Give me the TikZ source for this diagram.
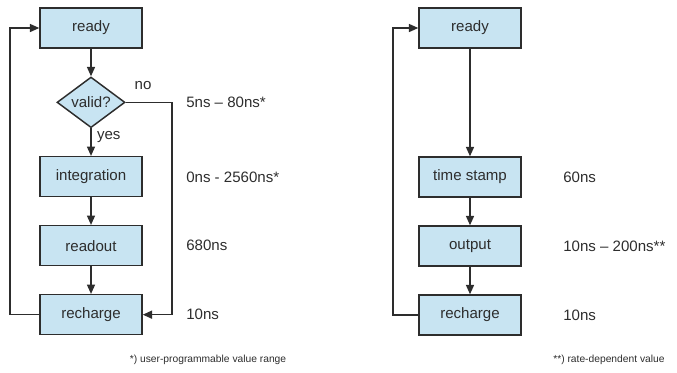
\documentclass[tikz,border=0pt]{standalone}
\usepackage{fontspec}
\setmainfont{Liberation Sans}
\usepackage{tikz}
\usetikzlibrary{arrows.meta, positioning, shapes.geometric}
\definecolor{boxblue}{RGB}{200,228,242}
\definecolor{ink}{RGB}{45,45,45}
\tikzset{
  blk/.style ={rectangle, draw=ink, fill=boxblue, line width=1.1pt, minimum width=76.5pt, minimum height=30pt, font=\fontsize{11.3}{13}\selectfont, text=ink},
  dec/.style ={diamond, draw=ink, fill=boxblue, line width=1.1pt, aspect=1.33, minimum width=51pt, minimum height=38pt, inner sep=0pt, font=\fontsize{11.3}{13}\selectfont, text=ink},
  tm/.style  ={anchor=west, inner sep=0pt, font=\fontsize{11.3}{13}\selectfont, text=ink},
  lbl/.style ={inner sep=0pt, font=\fontsize{11.3}{13}\selectfont, text=ink},
  note/.style={inner sep=0pt, font=\fontsize{7.7}{9}\selectfont, text=ink},
  fl/.style  ={-{Triangle[length=7pt, width=6pt]}, draw=ink, line width=1.1pt},
}
\begin{document}
\begin{tikzpicture}[x=0.75pt, y=-0.75pt, node distance=20.65pt]
  \useasboundingbox (0,0) rectangle (677,372);
  % left: readout cycle
  \node[blk] (rdy) at (91,28) {ready};
  \node[dec, below=of rdy] (val) {valid?};
  \node[blk, below=of val] (integ) {integration};
  \node[blk, below=of integ] (rout) {readout};
  \node[blk, below=of rout] (rch) {recharge};
  \coordinate (noc) at (172,0);
  \coordinate (lpl) at (10,0);
  \draw[fl] (rdy)--(val);
  \draw[fl] (val)-- node[lbl, right=4pt, pos=0.3]{yes} (integ);
  \draw[fl] (integ)--(rout);
  \draw[fl] (rout)--(rch);
  \draw[fl] (val.east) -- (noc |- val) |- (rch.east);
  \node[lbl] at (143,86) {no};
  \draw[fl] (rch.west) -- (lpl |- rch) |- (rdy.west);
  \node[tm] (t2) at (186,177) {0ns - 2560ns*};
  \node[tm] (t1) at (t2.west |- val) {5ns -- 80ns*};
  \node[tm] (t3) at (t2.west |- rout) {680ns};
  \node[tm] (t4) at (t2.west |- rch) {10ns};
  \node[note] (n1) at (208,360) {*) user-programmable value range};
  % right: time stamp cycle
  \node[blk] (rdy2) at (470,28) {ready};
  \node[blk, below=80.65pt of rdy2] (tst) {time stamp};
  \node[blk, below=of tst] (outp) {output};
  \node[blk, below=of outp] (rch2) {recharge};
  \coordinate (lpr) at (393,0);
  \draw[fl] (rdy2)--(tst);
  \draw[fl] (tst)--(outp);
  \draw[fl] (outp)--(rch2);
  \draw[fl] (rch2.west) -- (lpr |- rch2) |- (rdy2.west);
  \node[tm] (s1) at (563,177) {60ns};
  \node[tm] (s2) at (s1.west |- outp) {10ns -- 200ns**};
  \node[tm] (s3) at (s1.west |- rch2) {10ns};
  \node[note, anchor=west] (n2) at (553,360) {**) rate-dependent value};
\end{tikzpicture}
\end{document}
